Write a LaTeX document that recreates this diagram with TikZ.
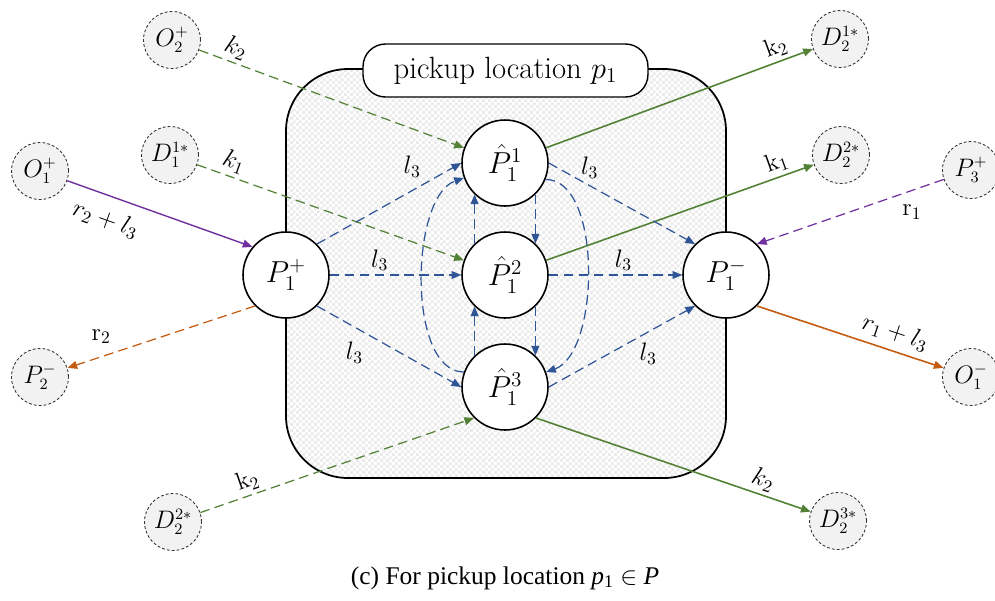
\documentclass[tikz,border=0pt]{standalone}
\usepackage{fontspec}
\newfontfamily\capfont{Liberation Serif}
\usetikzlibrary{arrows.meta, patterns}

\definecolor{arcgreen}{HTML}{538135}
\definecolor{arcblue}{HTML}{2F5597}
\definecolor{arcpurple}{HTML}{7030A0}
\definecolor{arcorange}{HTML}{C55A11}

% fine checkerboard for the zone
\pgfdeclarepatternformonly{finecheck}{\pgfqpoint{0pt}{0pt}}{\pgfqpoint{3.6pt}{3.6pt}}{\pgfqpoint{3.6pt}{3.6pt}}{
    \pgfpathrectangle{\pgfqpoint{0pt}{0pt}}{\pgfqpoint{1.8pt}{1.8pt}}
    \pgfpathrectangle{\pgfqpoint{1.8pt}{1.8pt}}{\pgfqpoint{1.8pt}{1.8pt}}
    \pgfusepath{fill}}

\begin{document}
\begin{tikzpicture}[
    x=0.02cm, y=-0.02cm,
    >={Triangle[length=5.5pt, width=4.5pt]},
    mainnode/.style={circle, draw, line width=0.9pt, fill=white, minimum size=1.72cm, inner sep=0pt, font=\fontsize{17}{19}\selectfont},
    extnode/.style={circle, draw=black!80, line width=0.5pt, dash pattern=on 1.6pt off 1.2pt, fill=gray!10, minimum size=1.14cm, inner sep=0pt, font=\fontsize{13.5}{15}\selectfont},
    zone/.style={draw, line width=1pt, rounded corners=1.24cm, preaction={fill=white}, pattern=finecheck, pattern color=black!8},
    pill/.style={draw, line width=0.8pt, fill=white, rounded corners=0.45cm, minimum width=5.7cm, minimum height=1.06cm, font=\fontsize{17.5}{20}\selectfont},
    lbl/.style={font=\fontsize{14}{16}\selectfont, inner sep=2pt},
    caption/.style={font=\capfont\fontsize{14.5}{17}\selectfont},
    bluearc/.style={->, draw=arcblue, line width=0.7pt, dash pattern=on 5.5pt off 3pt},
    greendash/.style={->, draw=arcgreen, line width=0.7pt, dash pattern=on 5.5pt off 3pt},
    greenline/.style={->, draw=arcgreen, line width=0.9pt},
    purpleline/.style={->, draw=arcpurple, line width=0.8pt},
    purpledash/.style={->, draw=arcpurple, line width=0.7pt, dash pattern=on 5.5pt off 3pt},
    orangeline/.style={->, draw=arcorange, line width=0.9pt},
    orangedash/.style={->, draw=arcorange, line width=0.7pt, dash pattern=on 5.5pt off 3pt}
]
    \useasboundingbox (0,0) rectangle (995,600);

    % ---- pickup location zone ----
    \draw[zone] (286,69) rectangle (726,478);
    \node[pill] (loc) at (505.5,70.5) {pickup location $p_1$};

    % ---- nodes inside the zone ----
    \node[mainnode] (p1p) at (286,275) {$P_1^+$};
    \node[mainnode] (h1)  at (505,163) {$\hat{P}_1^1$};
    \node[mainnode] (h2)  at (505,275) {$\hat{P}_1^2$};
    \node[mainnode] (h3)  at (505,387) {$\hat{P}_1^3$};
    \node[mainnode] (p1m) at (726,275) {$P_1^-$};

    % ---- outside nodes ----
    \node[extnode] (o2p)  at (172,40)  {$O_2^+$};
    \node[extnode] (d11)  at (170,155) {$D_1^{1*}$};
    \node[extnode] (o1p)  at (40,171)  {$O_1^+$};
    \node[extnode] (p2m)  at (40,377)  {$P_2^-$};
    \node[extnode] (d22l) at (173,522) {$D_2^{2*}$};
    \node[extnode] (d21)  at (840,39)  {$D_2^{1*}$};
    \node[extnode] (d22r) at (841,155) {$D_2^{2*}$};
    \node[extnode] (p3p)  at (971,170) {$P_3^+$};
    \node[extnode] (o1m)  at (971,377) {$O_1^-$};
    \node[extnode] (d23)  at (838,521) {$D_2^{3*}$};

    % ---- arcs from and to the outside ----
    \draw[greendash] (o2p) -- (h1) node[lbl, pos=0.12, sloped, above] {$k_2$};
    \draw[greendash] (d11) -- (h2) node[lbl, pos=0.12, sloped, above] {$k_1$};
    \draw[purpleline] (o1p) -- (p1p.140) node[lbl, pos=0.25, sloped, below=5pt] {$r_2 + l_3$};
    \draw[orangedash] (p1p.225) -- (p2m) node[lbl, pos=0.82, above=5pt] {$\mathrm{r}_2$};
    \draw[greendash] (d22l) -- (h3.225) node[lbl, pos=0.19, sloped, above] {$\mathrm{k}_2$};
    \draw[greenline] (h1) -- (d21) node[lbl, pos=0.88, sloped, above] {$\mathrm{k}_2$};
    \draw[greenline] (h2) -- (d22r) node[lbl, pos=0.88, sloped, above] {$\mathrm{k}_1$};
    \draw[purpledash] (p3p) -- (p1m.45) node[lbl, pos=0.17, below=6pt] {$\mathrm{r}_1$};
    \draw[orangeline] (p1m.315) -- (o1m) node[lbl, pos=0.71, sloped, above=2pt] {$r_1 + l_3$};
    \draw[greenline] (h3.315) -- (d23) node[lbl, pos=0.81, sloped, above] {$k_2$};

    % ---- arcs inside the zone ----
    \draw[bluearc] (p1p.45)  -- (h1.west) node[lbl, pos=0.66, above=5pt] {$l_3$};
    \draw[bluearc] (p1p.east) -- (h2.west) node[lbl, pos=0.38, above] {$l_3$};
    \draw[bluearc] (p1p.315) -- (h3.west) node[lbl, pos=0.26, below=6pt] {$l_3$};
    \draw[bluearc] (h1.east) -- (p1m.135) node[lbl, pos=0.28, above=2pt] {$l_3$};
    \draw[bluearc] (h2.east) -- (p1m.west) node[lbl, pos=0.56, above] {$l_3$};
    \draw[bluearc] (h3.east) -- (p1m.225) node[lbl, pos=0.68, below=4pt] {$l_3$};

    \draw[bluearc] (h2.134) -- (h1.226);
    \draw[bluearc] (h1.314) -- (h2.46);
    \draw[bluearc] (h3.134) -- (h2.226);
    \draw[bluearc] (h2.314) -- (h3.46);
    \draw[bluearc] (h3.160) .. controls +(-57,0) and +(-54,19) .. (h1.200);
    \draw[bluearc] (h1.338) .. controls +(57,0) and +(54,-19) .. (h3.20);

    % ---- caption ----
    \node[caption] (cap) at (505,578) {(c) For pickup location {\itshape p}\textsubscript{1} $\in$ {\itshape P}};
\end{tikzpicture}
\end{document}
